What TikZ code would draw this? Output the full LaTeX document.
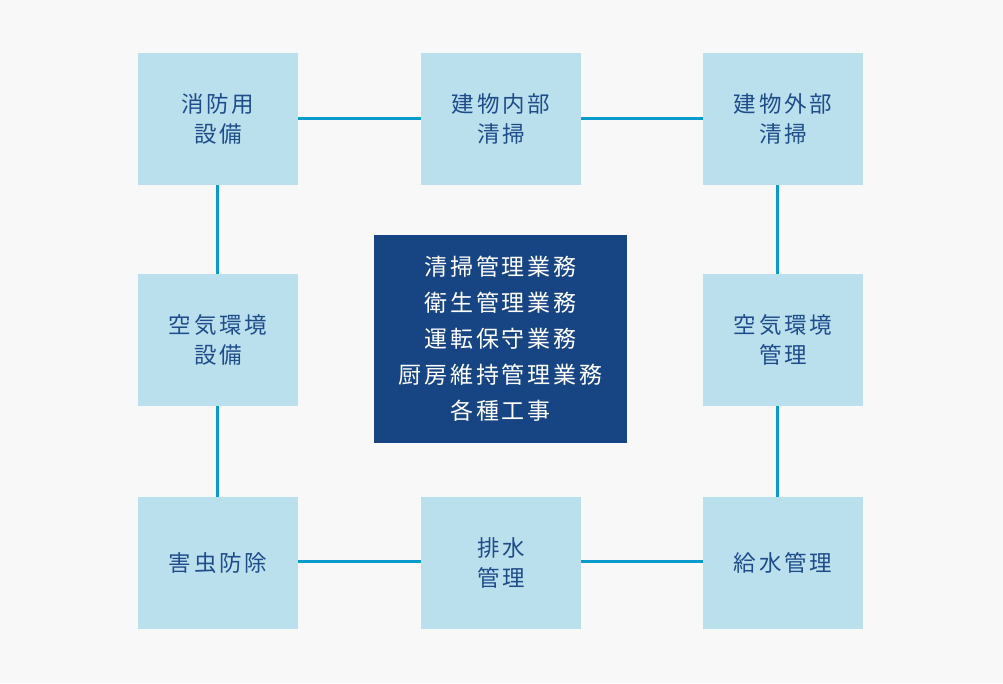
\documentclass[tikz,border=0pt]{standalone}
\usepackage{fontspec}
\newfontfamily\cjkbox[LetterSpace=12]{Noto Sans CJK JP}
\newfontfamily\cjkcenter[LetterSpace=12]{Noto Sans CJK JP}
\definecolor{bgc}{HTML}{F8F8F8}
\definecolor{boxc}{HTML}{BBE0ED}
\definecolor{darkc}{HTML}{174583}
\definecolor{linec}{HTML}{0A9ACC}
\definecolor{txtc}{HTML}{1F4C8A}
\begin{document}
\begin{tikzpicture}[x=1pt,y=-1pt,
  outerbox/.style={fill=boxc, draw=none, minimum width=160pt, minimum height=132pt, inner sep=0pt,
    text=txtc, align=center, font=\cjkbox\fontsize{22.5}{30}\selectfont},
  centerbox/.style={fill=darkc, draw=none, minimum width=253pt, minimum height=208pt, inner sep=0pt,
    text=white, align=center, font=\cjkcenter\fontsize{23}{36}\selectfont},
  conn/.style={draw=linec, line width=3pt}]
\fill[bgc] (0,0) rectangle (1003,683);
\useasboundingbox (0,0) rectangle (1003,683);
\node[outerbox] (a) at (218,119) {消防用\\設備};
\node[outerbox] (b) at (501,119) {建物内部\\清掃};
\node[outerbox] (c) at (783,119) {建物外部\\清掃};
\node[outerbox] (d) at (218,340) {空気環境\\設備};
\node[outerbox] (e) at (783,340) {空気環境\\管理};
\node[outerbox] (f) at (218,563) {害虫防除};
\node[outerbox] (g) at (501,563) {排水\\管理};
\node[outerbox] (h) at (783,563) {給水管理};
\node[centerbox] (m) at (500.5,339) {清掃管理業務\\衛生管理業務\\運転保守業務\\厨房維持管理業務\\各種工事};
\draw[conn] (a.east |- 0,118) -- (b.west |- 0,118);
\draw[conn] (b.east |- 0,118) -- (c.west |- 0,118);
\draw[conn] (g.east |- 0,561) -- (h.west |- 0,561);
\draw[conn] (f.east |- 0,561) -- (g.west |- 0,561);
\draw[conn] (a.south -| 217,0) -- (d.north -| 217,0);
\draw[conn] (d.south -| 217,0) -- (f.north -| 217,0);
\draw[conn] (c.south -| 777,0) -- (e.north -| 777,0);
\draw[conn] (e.south -| 777,0) -- (h.north -| 777,0);
\end{tikzpicture}
\end{document}
